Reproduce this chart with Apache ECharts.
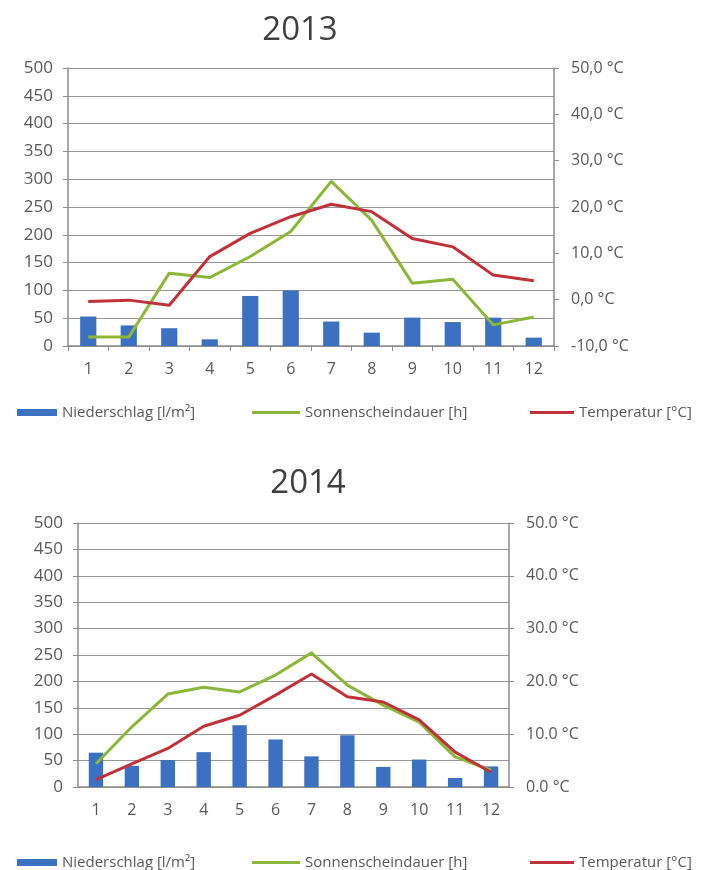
<!DOCTYPE html>
<html><head><meta charset="utf-8">
<script src="https://cdn.jsdelivr.net/npm/echarts@6/dist/echarts.min.js"></script>
<style>html,body{margin:0;padding:0;background:#fff}#c{width:704px;height:870px}</style>
</head><body><div id="c"></div>
<script>
const months = ['1','2','3','4','5','6','7','8','9','10','11','12'];
const titles = ['2013','2014'];
const seriesNames = ['Niederschlag [l/m²]','Sonnenscheindauer [h]','Temperatur [°C]'];
// 2013
const rain2013 = [53,37,32,12,90,100,44,24,51,43,51,15];
const sun2013  = [16,16,131,123,161,206,296,226,113,120,38,52];
const temp2013 = [-0.4,-0.1,-1.2,9.3,14.3,17.9,20.6,19.0,13.2,11.4,5.3,4.1];
// 2014
const rain2014 = [65,40,51,66,117,90,58,98,38,52,17,39];
const sun2014  = [44,114,176,189,180,212,254,193,155,123,57,32];
const temp2014 = [1.4,4.4,7.3,11.5,13.6,17.4,21.4,17.1,16.1,12.7,6.6,2.8];
// axes ticks
const leftAxis = {min:0, max:500, interval:50};
const rightAxis2013 = {min:-10, max:50, interval:10};
const rightAxis2014 = {min:0, max:50, interval:10};

const FONT = "'Open Sans', 'Liberation Sans', sans-serif";
const TXT = '#595959';
const GRID = '#969696';
const AXIS = '#8c8c8c';
const BLUE = '#3c71c1', GREEN = '#8db73a', RED = '#c0323a';

const chart = echarts.init(document.getElementById('c'), null, {renderer:'canvas'});

const grids = [
  {left:68, top:68, width:486, height:278},
  {left:78, top:523, width:431, height:264}
];
const decSep = [',', '.'];
const rightDefs = [rightAxis2013, rightAxis2014];
const data = [[rain2013,sun2013,temp2013],[rain2014,sun2014,temp2014]];
const legendTops = [400, 850];
const xTicks = [true, false];

const option = {
  animation:false,
  backgroundColor:'#fff',
  title: [
    {text:titles[0], left:295, top:9, textAlign:'center', textStyle:{fontFamily:FONT, fontSize:33, fontWeight:'normal', color:'#404040'}},
    {text:titles[1], left:303, top:462, textAlign:'center', textStyle:{fontFamily:FONT, fontSize:33, fontWeight:'normal', color:'#404040'}}
  ],
  grid: grids,
  legend: [],
  xAxis: [], yAxis: [], series: []
};

for (let k=0;k<2;k++){
  option.xAxis.push({
    type:'category', gridIndex:k, data:months, boundaryGap:true,
    axisLine:{show:true, lineStyle:{color:AXIS, width:1.5}},
    axisTick:{show:xTicks[k], length:5, lineStyle:{color:AXIS}},
    axisLabel:{color:TXT, fontFamily:FONT, fontSize:16, margin:15}
  });
  option.yAxis.push({
    type:'value', gridIndex:k, min:leftAxis.min, max:leftAxis.max, interval:leftAxis.interval,
    axisLine:{show:true, lineStyle:{color:AXIS, width:1.5}},
    axisTick:{show:true, inside:false, length:5, lineStyle:{color:AXIS}},
    splitLine:{show:true, lineStyle:{color:GRID, width:1}},
    axisLabel:{color:TXT, fontFamily:FONT, fontSize:17, margin:15}
  });
  const rd = rightDefs[k];
  const sep = decSep[k];
  option.yAxis.push({
    type:'value', gridIndex:k, position:'right', min:rd.min, max:rd.max, interval:rd.interval,
    axisLine:{show:true, lineStyle:{color:AXIS, width:1.5}},
    axisTick:{show:true, inside:false, length:5, lineStyle:{color:AXIS}},
    splitLine:{show:false},
    axisLabel:{color:TXT, fontFamily:FONT, fontSize:16, margin:17,
      formatter: v => v.toFixed(1).replace('.', sep) + ' °C'}
  });
  const yi = k*2;
  option.series.push({
    name:seriesNames[0], type:'bar', xAxisIndex:k, yAxisIndex:yi, data:data[k][0],
    barWidth:'40%', itemStyle:{color:BLUE}, z:2
  });
  option.series.push({
    name:seriesNames[1], type:'line', xAxisIndex:k, yAxisIndex:yi, data:data[k][1],
    showSymbol:false, symbol:'none', lineStyle:{color:GREEN, width:3}, itemStyle:{color:GREEN}, z:3
  });
  option.series.push({
    name:seriesNames[2], type:'line', xAxisIndex:k, yAxisIndex:yi+1, data:data[k][2],
    showSymbol:false, symbol:'none', lineStyle:{color:RED, width:3}, itemStyle:{color:RED}, z:4
  });
  const lt = legendTops[k];
  const legText = {color:TXT, fontFamily:FONT, fontSize:15};
  option.legend.push({left:12, top:lt, itemWidth:40, itemHeight:7, itemGap:0, selectedMode:false,
    textStyle:legText, data:[{name:seriesNames[0], icon:'rect', itemStyle:{color:BLUE}}]});
  option.legend.push({left:247, top:lt, itemWidth:48, itemHeight:3, selectedMode:false,
    textStyle:legText, data:[{name:seriesNames[1], icon:'rect', itemStyle:{color:GREEN}}]});
  option.legend.push({left:525, top:lt, itemWidth:44, itemHeight:3, selectedMode:false,
    textStyle:legText, data:[{name:seriesNames[2], icon:'rect', itemStyle:{color:RED}}]});
}
chart.setOption(option);
</script></body></html>
